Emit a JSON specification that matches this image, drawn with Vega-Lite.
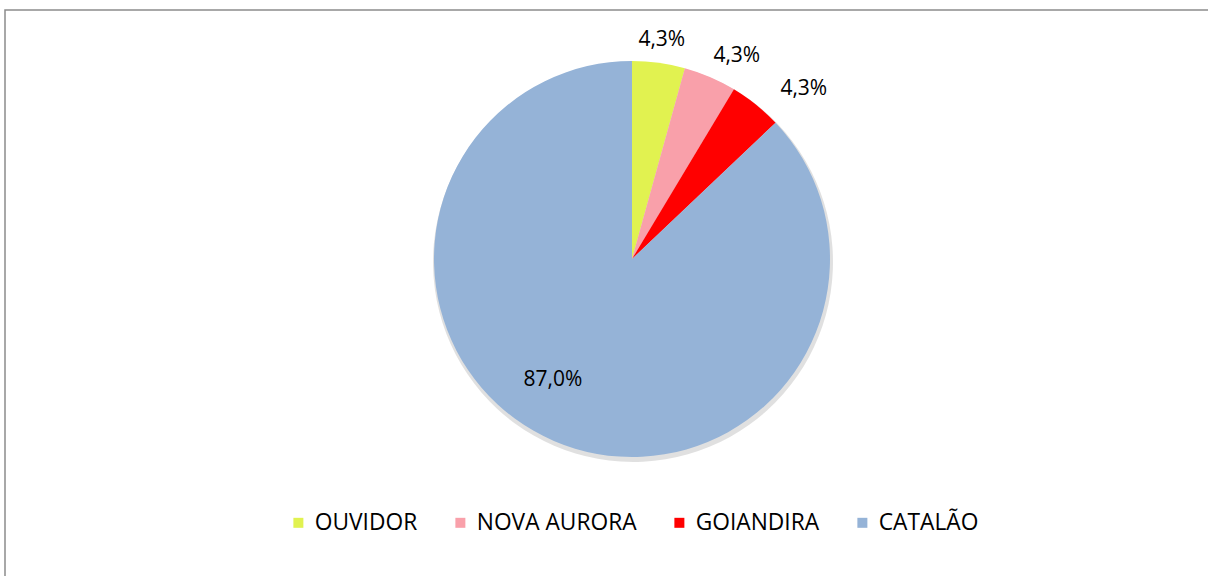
{
  "$schema": "https://vega.github.io/schema/vega-lite/v6.json",
  "autosize": {"type": "none"},
  "width": 1254,
  "height": 640,
  "padding": {"left": 5, "top": 10, "right": -51, "bottom": -74},
  "background": "white",
  "view": {"stroke": "#8c8c8c", "strokeWidth": 1.5},
  "config": {
    "view": {"stroke": "#8c8c8c", "strokeWidth": 1.5},
    "font": "Open Sans",
    "locale": {"number": {"decimal": ",", "thousands": ".", "grouping": [3], "currency": ["R$", ""]}}
  },
  "data": {
    "values": [
      {"municipio": "OUVIDOR", "share": 0.043, "rank": 1},
      {"municipio": "NOVA AURORA", "share": 0.043, "rank": 2},
      {"municipio": "GOIANDIRA", "share": 0.043, "rank": 3},
      {"municipio": "CATALÃO", "share": 0.870, "rank": 4}
    ]
  },
  "encoding": {
    "theta": {"field": "share", "type": "quantitative", "stack": true},
    "order": {"field": "rank", "type": "quantitative"}
  },
  "layer": [
    {
      "mark": {"type": "arc", "radius": 200, "yOffset": -68, "xOffset": 1, "fill": "#000000", "opacity": 0.12}
    },
    {
      "mark": {"type": "arc", "radius": 198, "yOffset": -71},
      "encoding": {
        "color": {
          "field": "municipio",
          "type": "nominal",
          "sort": ["OUVIDOR", "NOVA AURORA", "GOIANDIRA", "CATALÃO"],
          "scale": {
            "domain": ["OUVIDOR", "NOVA AURORA", "GOIANDIRA", "CATALÃO"],
            "range": ["#E1F250", "#F9A0AA", "#FF0000", "#95B3D7"]
          },
          "legend": {
            "orient": "none",
            "legendX": 282,
            "legendY": 501,
            "direction": "horizontal",
            "title": null,
            "symbolType": "square",
            "symbolSize": 100,
            "symbolStrokeWidth": 0,
            "labelFont": "Open Sans",
            "labelFontSize": 22.75,
            "labelLimit": 400,
            "labelColor": "#000000",
            "labelOffset": 5,
            "columnPadding": 31,
            "padding": 0
          }
        }
      }
    },
    {
      "mark": {"type": "text", "radius": 221, "yOffset": -71, "fontSize": 21, "color": "#000000", "align": "center", "baseline": "middle"},
      "encoding": {"text": {"condition": {"test": "datum.municipio === 'OUVIDOR'", "field": "share", "type": "quantitative", "format": ".1%"}, "value": ""}}
    },
    {
      "mark": {"type": "text", "radius": 225, "yOffset": -71, "dx": 16, "dy": 4, "fontSize": 21, "color": "#000000", "align": "center", "baseline": "middle"},
      "encoding": {"text": {"condition": {"test": "datum.municipio === 'NOVA AURORA'", "field": "share", "type": "quantitative", "format": ".1%"}, "value": ""}}
    },
    {
      "mark": {"type": "text", "radius": 225, "yOffset": -71, "dx": 31, "dy": 6, "fontSize": 21, "color": "#000000", "align": "center", "baseline": "middle"},
      "encoding": {"text": {"condition": {"test": "datum.municipio === 'GOIANDIRA'", "field": "share", "type": "quantitative", "format": ".1%"}, "value": ""}}
    },
    {
      "mark": {"type": "text", "radius": 132, "yOffset": -71, "dx": -27, "fontSize": 21, "color": "#000000", "align": "center", "baseline": "middle"},
      "encoding": {"text": {"condition": {"test": "datum.municipio === 'CATALÃO'", "field": "share", "type": "quantitative", "format": ".1%"}, "value": ""}}
    }
  ]
}
